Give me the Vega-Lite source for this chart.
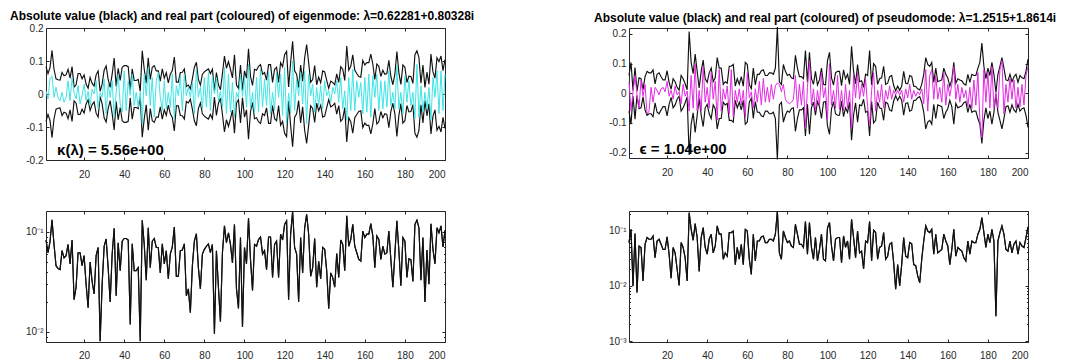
{
"$schema": "https://vega.github.io/schema/vega-lite/v6.json",
"padding": {"left": 10, "top": 10, "right": 5, "bottom": 0},
"background": "white",
"config": {"view": {"stroke": null}, "axis": {"labelFont": "Liberation Sans", "labelFontSize": 10, "labelColor": "#262626", "domainColor": "#262626", "tickColor": "#262626", "grid": false, "tickSize": -3, "domainWidth": 1, "tickWidth": 1}, "title": {"font": "Liberation Sans", "fontSize": 12, "fontWeight": "bold", "color": "black"}},
"datasets": {
"L": [{"i":1,"a":0.083,"r":0.01},{"i":2,"a":0.062,"r":-0.015},{"i":3,"a":0.08,"r":0.045},{"i":4,"a":0.132,"r":0.055},{"i":5,"a":0.075,"r":-0.01},{"i":6,"a":0.046,"r":0.02},{"i":7,"a":0.043,"r":-0.012},{"i":8,"a":0.042,"r":-0.02},{"i":9,"a":0.065,"r":0.005},{"i":10,"a":0.055,"r":-0.025},
{"i":11,"a":0.058,"r":-0.01},{"i":12,"a":0.075,"r":0.04},{"i":13,"a":0.048,"r":-0.02},{"i":14,"a":0.083,"r":0.05},{"i":15,"a":0.021,"r":0.005},{"i":16,"a":0.028,"r":-0.015},{"i":17,"a":0.062,"r":0.025},{"i":18,"a":0.062,"r":-0.03},{"i":19,"a":0.046,"r":-0.005},{"i":20,"a":0.058,"r":0.03},
{"i":21,"a":0.03,"r":-0.02},{"i":22,"a":0.0175,"r":0.008},{"i":23,"a":0.05,"r":-0.035},{"i":24,"a":0.032,"r":0.015},{"i":25,"a":0.024,"r":0.0},{"i":26,"a":0.058,"r":0.04},{"i":27,"a":0.07,"r":-0.045},{"i":28,"a":0.0081,"r":0.004},{"i":29,"a":0.03,"r":-0.01},{"i":30,"a":0.072,"r":0.045},
{"i":31,"a":0.085,"r":-0.06},{"i":32,"a":0.044,"r":0.03},{"i":33,"a":0.02,"r":-0.01},{"i":34,"a":0.06,"r":0.04},{"i":35,"a":0.109,"r":-0.07},{"i":36,"a":0.023,"r":0.005},{"i":37,"a":0.078,"r":0.06},{"i":38,"a":0.041,"r":-0.03},{"i":39,"a":0.081,"r":-0.055},{"i":40,"a":0.086,"r":0.07},
{"i":41,"a":0.086,"r":-0.05},{"i":42,"a":0.083,"r":0.04},{"i":43,"a":0.0119,"r":-0.004},{"i":44,"a":0.076,"r":0.06},{"i":45,"a":0.041,"r":-0.035},{"i":46,"a":0.041,"r":0.005},{"i":47,"a":0.044,"r":-0.04},{"i":48,"a":0.0081,"r":0.006},{"i":49,"a":0.131,"r":-0.09},{"i":50,"a":0.075,"r":0.06},
{"i":51,"a":0.033,"r":-0.005},{"i":52,"a":0.11,"r":0.08},{"i":53,"a":0.044,"r":-0.035},{"i":54,"a":0.081,"r":0.05},{"i":55,"a":0.086,"r":-0.07},{"i":56,"a":0.07,"r":0.04},{"i":57,"a":0.07,"r":0.065},{"i":58,"a":0.039,"r":-0.01},{"i":59,"a":0.076,"r":-0.05},{"i":60,"a":0.048,"r":0.04},
{"i":61,"a":0.065,"r":-0.045},{"i":62,"a":0.034,"r":0.005},{"i":63,"a":0.06,"r":-0.04},{"i":64,"a":0.071,"r":0.06},{"i":65,"a":0.112,"r":-0.075},{"i":66,"a":0.036,"r":0.025},{"i":67,"a":0.036,"r":-0.005},{"i":68,"a":0.065,"r":0.055},{"i":69,"a":0.066,"r":-0.05},{"i":70,"a":0.076,"r":0.06},
{"i":71,"a":0.023,"r":-0.005},{"i":72,"a":0.027,"r":0.02},{"i":73,"a":0.0156,"r":-0.01},{"i":74,"a":0.046,"r":0.035},{"i":75,"a":0.081,"r":-0.06},{"i":76,"a":0.096,"r":0.075},{"i":77,"a":0.044,"r":-0.01},{"i":78,"a":0.027,"r":0.02},{"i":79,"a":0.06,"r":-0.045},{"i":80,"a":0.067,"r":0.05},
{"i":81,"a":0.072,"r":-0.04},{"i":82,"a":0.076,"r":0.065},{"i":83,"a":0.062,"r":-0.05},{"i":84,"a":0.075,"r":0.055},{"i":85,"a":0.0096,"r":0.0},{"i":86,"a":0.065,"r":0.05},{"i":87,"a":0.028,"r":-0.022},{"i":88,"a":0.0127,"r":0.008},{"i":89,"a":0.062,"r":-0.04},{"i":90,"a":0.115,"r":0.08},
{"i":91,"a":0.078,"r":-0.06},{"i":92,"a":0.098,"r":0.06},{"i":93,"a":0.075,"r":-0.055},{"i":94,"a":0.049,"r":0.035},{"i":95,"a":0.119,"r":-0.07},{"i":96,"a":0.027,"r":0.005},{"i":97,"a":0.0172,"r":-0.012},{"i":98,"a":0.088,"r":0.06},{"i":99,"a":0.0112,"r":-0.008},{"i":100,"a":0.07,"r":0.05},
{"i":101,"a":0.048,"r":-0.04},{"i":102,"a":0.137,"r":0.09},{"i":103,"a":0.053,"r":-0.045},{"i":104,"a":0.026,"r":0.005},{"i":105,"a":0.075,"r":-0.06},{"i":106,"a":0.072,"r":0.05},{"i":107,"a":0.084,"r":-0.055},{"i":108,"a":0.089,"r":0.075},{"i":109,"a":0.06,"r":-0.04},{"i":110,"a":0.065,"r":0.045},
{"i":111,"a":0.042,"r":-0.035},{"i":112,"a":0.089,"r":0.07},{"i":113,"a":0.089,"r":-0.06},{"i":114,"a":0.035,"r":0.005},{"i":115,"a":0.075,"r":-0.05},{"i":116,"a":0.081,"r":0.065},{"i":117,"a":0.035,"r":-0.01},{"i":118,"a":0.095,"r":0.06},{"i":119,"a":0.083,"r":-0.065},{"i":120,"a":0.119,"r":0.08},
{"i":121,"a":0.129,"r":-0.09},{"i":122,"a":0.021,"r":0.003},{"i":123,"a":0.095,"r":-0.06},{"i":124,"a":0.16,"r":0.1},{"i":125,"a":0.07,"r":-0.05},{"i":126,"a":0.06,"r":0.045},{"i":127,"a":0.02,"r":-0.005},{"i":128,"a":0.088,"r":0.065},{"i":129,"a":0.039,"r":-0.03},{"i":130,"a":0.11,"r":0.07},
{"i":131,"a":0.15,"r":-0.09},{"i":132,"a":0.095,"r":0.06},{"i":133,"a":0.036,"r":-0.005},{"i":134,"a":0.044,"r":0.03},{"i":135,"a":0.086,"r":-0.055},{"i":136,"a":0.028,"r":0.02},{"i":137,"a":0.051,"r":-0.035},{"i":138,"a":0.034,"r":0.025},{"i":139,"a":0.07,"r":-0.045},{"i":140,"a":0.067,"r":0.04},
{"i":141,"a":0.041,"r":-0.005},{"i":142,"a":0.0171,"r":0.01},{"i":143,"a":0.039,"r":-0.025},{"i":144,"a":0.035,"r":0.02},{"i":145,"a":0.028,"r":0.0},{"i":146,"a":0.061,"r":0.04},{"i":147,"a":0.035,"r":-0.025},{"i":148,"a":0.083,"r":0.05},{"i":149,"a":0.075,"r":-0.045},{"i":150,"a":0.041,"r":0.01},
{"i":151,"a":0.145,"r":-0.08},{"i":152,"a":0.072,"r":0.05},{"i":153,"a":0.084,"r":-0.05},{"i":154,"a":0.119,"r":0.075},{"i":155,"a":0.072,"r":-0.05},{"i":156,"a":0.062,"r":0.04},{"i":157,"a":0.053,"r":-0.01},{"i":158,"a":0.051,"r":0.035},{"i":159,"a":0.102,"r":-0.06},{"i":160,"a":0.088,"r":0.05},
{"i":161,"a":0.095,"r":-0.055},{"i":162,"a":0.095,"r":0.06},{"i":163,"a":0.121,"r":-0.07},{"i":164,"a":0.091,"r":0.055},{"i":165,"a":0.044,"r":-0.01},{"i":166,"a":0.091,"r":0.06},{"i":167,"a":0.084,"r":-0.05},{"i":168,"a":0.053,"r":0.04},{"i":169,"a":0.072,"r":-0.045},{"i":170,"a":0.06,"r":0.04},
{"i":171,"a":0.062,"r":-0.04},{"i":172,"a":0.102,"r":0.07},{"i":173,"a":0.053,"r":-0.035},{"i":174,"a":0.028,"r":0.005},{"i":175,"a":0.06,"r":-0.045},{"i":176,"a":0.129,"r":0.085},{"i":177,"a":0.065,"r":-0.045},{"i":178,"a":0.029,"r":0.005},{"i":179,"a":0.088,"r":-0.06},{"i":180,"a":0.081,"r":0.055},
{"i":181,"a":0.035,"r":-0.025},{"i":182,"a":0.054,"r":0.04},{"i":183,"a":0.053,"r":-0.035},{"i":184,"a":0.032,"r":0.005},{"i":185,"a":0.119,"r":-0.075},{"i":186,"a":0.131,"r":0.09},{"i":187,"a":0.11,"r":-0.07},{"i":188,"a":0.033,"r":0.025},{"i":189,"a":0.088,"r":-0.055},{"i":190,"a":0.02,"r":0.005},
{"i":191,"a":0.066,"r":-0.045},{"i":192,"a":0.03,"r":0.02},{"i":193,"a":0.121,"r":-0.08},{"i":194,"a":0.067,"r":0.05},{"i":195,"a":0.048,"r":-0.01},{"i":196,"a":0.11,"r":0.07},{"i":197,"a":0.098,"r":-0.06},{"i":198,"a":0.115,"r":0.07},{"i":199,"a":0.071,"r":-0.05},{"i":200,"a":0.104,"r":0.06}],
"R": [{"i":1,"a":0.06,"r":0.04},{"i":2,"a":0.104,"r":-0.06},{"i":3,"a":0.0099,"r":0.005},{"i":4,"a":0.087,"r":0.06},{"i":5,"a":0.0075,"r":-0.005},{"i":6,"a":0.052,"r":-0.05},{"i":7,"a":0.049,"r":0.045},{"i":8,"a":0.0121,"r":-0.01},{"i":9,"a":0.056,"r":0.03},{"i":10,"a":0.074,"r":-0.07},
{"i":11,"a":0.069,"r":-0.06},{"i":12,"a":0.069,"r":0.02},{"i":13,"a":0.079,"r":-0.03},{"i":14,"a":0.032,"r":0.02},{"i":15,"a":0.064,"r":0.01},{"i":16,"a":0.069,"r":-0.005},{"i":17,"a":0.056,"r":0.015},{"i":18,"a":0.045,"r":0.02},{"i":19,"a":0.045,"r":0.005},{"i":20,"a":0.076,"r":0.04},
{"i":21,"a":0.037,"r":-0.01},{"i":22,"a":0.0136,"r":0.01},{"i":23,"a":0.049,"r":-0.02},{"i":24,"a":0.039,"r":0.025},{"i":25,"a":0.02,"r":-0.005},{"i":26,"a":0.0101,"r":0.005},{"i":27,"a":0.06,"r":-0.035},{"i":28,"a":0.049,"r":0.03},{"i":29,"a":0.032,"r":-0.01},{"i":30,"a":0.0121,"r":0.008},
{"i":31,"a":0.208,"r":-0.06},{"i":32,"a":0.104,"r":0.06},{"i":33,"a":0.066,"r":-0.05},{"i":34,"a":0.132,"r":0.1},{"i":35,"a":0.074,"r":-0.06},{"i":36,"a":0.018,"r":0.01},{"i":37,"a":0.074,"r":-0.06},{"i":38,"a":0.112,"r":0.09},{"i":39,"a":0.049,"r":-0.03},{"i":40,"a":0.037,"r":0.02},
{"i":41,"a":0.069,"r":-0.05},{"i":42,"a":0.085,"r":0.07},{"i":43,"a":0.039,"r":-0.02},{"i":44,"a":0.052,"r":0.04},{"i":45,"a":0.12,"r":-0.09},{"i":46,"a":0.085,"r":0.08},{"i":47,"a":0.085,"r":-0.06},{"i":48,"a":0.03,"r":0.015},{"i":49,"a":0.039,"r":-0.02},{"i":50,"a":0.034,"r":0.025},
{"i":51,"a":0.091,"r":-0.07},{"i":52,"a":0.091,"r":0.08},{"i":53,"a":0.097,"r":-0.08},{"i":54,"a":0.024,"r":0.01},{"i":55,"a":0.049,"r":-0.03},{"i":56,"a":0.03,"r":0.015},{"i":57,"a":0.056,"r":-0.04},{"i":58,"a":0.024,"r":0.01},{"i":59,"a":0.104,"r":-0.08},{"i":60,"a":0.097,"r":0.07},
{"i":61,"a":0.03,"r":-0.015},{"i":62,"a":0.016,"r":0.005},{"i":63,"a":0.085,"r":-0.05},{"i":64,"a":0.028,"r":0.015},{"i":65,"a":0.064,"r":-0.03},{"i":66,"a":0.064,"r":0.04},{"i":67,"a":0.076,"r":-0.04},{"i":68,"a":0.079,"r":0.05},{"i":69,"a":0.06,"r":-0.03},{"i":70,"a":0.06,"r":0.02},
{"i":71,"a":0.069,"r":-0.03},{"i":72,"a":0.069,"r":0.03},{"i":73,"a":0.064,"r":-0.02},{"i":74,"a":0.085,"r":0.025},{"i":75,"a":0.223,"r":0.035},{"i":76,"a":0.039,"r":0.03},{"i":77,"a":0.03,"r":0.005},{"i":78,"a":0.097,"r":0.03},{"i":79,"a":0.074,"r":-0.02},{"i":80,"a":0.06,"r":-0.03},
{"i":81,"a":0.064,"r":-0.035},{"i":82,"a":0.052,"r":-0.03},{"i":83,"a":0.049,"r":-0.02},{"i":84,"a":0.128,"r":0.06},{"i":85,"a":0.085,"r":-0.05},{"i":86,"a":0.056,"r":0.03},{"i":87,"a":0.056,"r":-0.04},{"i":88,"a":0.049,"r":0.04},{"i":89,"a":0.144,"r":-0.12},{"i":90,"a":0.037,"r":0.02},
{"i":91,"a":0.138,"r":0.11},{"i":92,"a":0.049,"r":-0.04},{"i":93,"a":0.03,"r":0.015},{"i":94,"a":0.074,"r":-0.06},{"i":95,"a":0.028,"r":0.01},{"i":96,"a":0.045,"r":-0.04},{"i":97,"a":0.085,"r":0.07},{"i":98,"a":0.03,"r":-0.015},{"i":99,"a":0.028,"r":0.02},{"i":100,"a":0.11,"r":-0.09},
{"i":101,"a":0.138,"r":0.1},{"i":102,"a":0.052,"r":-0.04},{"i":103,"a":0.028,"r":0.01},{"i":104,"a":0.069,"r":-0.05},{"i":105,"a":0.074,"r":0.06},{"i":106,"a":0.074,"r":-0.055},{"i":107,"a":0.026,"r":0.01},{"i":108,"a":0.079,"r":-0.06},{"i":109,"a":0.049,"r":0.03},{"i":110,"a":0.064,"r":-0.05},
{"i":111,"a":0.03,"r":0.01},{"i":112,"a":0.158,"r":-0.12},{"i":113,"a":0.074,"r":0.06},{"i":114,"a":0.032,"r":-0.015},{"i":115,"a":0.097,"r":0.07},{"i":116,"a":0.039,"r":-0.02},{"i":117,"a":0.042,"r":0.03},{"i":118,"a":0.02,"r":-0.01},{"i":119,"a":0.064,"r":0.05},{"i":120,"a":0.06,"r":-0.045},
{"i":121,"a":0.144,"r":-0.11},{"i":122,"a":0.028,"r":0.01},{"i":123,"a":0.1,"r":0.07},{"i":124,"a":0.091,"r":-0.06},{"i":125,"a":0.03,"r":0.01},{"i":126,"a":0.049,"r":-0.03},{"i":127,"a":0.052,"r":0.03},{"i":128,"a":0.091,"r":-0.05},{"i":129,"a":0.03,"r":0.01},{"i":130,"a":0.034,"r":-0.02},
{"i":131,"a":0.056,"r":0.025},{"i":132,"a":0.06,"r":-0.02},{"i":133,"a":0.026,"r":0.01},{"i":134,"a":0.0086,"r":-0.005},{"i":135,"a":0.024,"r":0.01},{"i":136,"a":0.0099,"r":-0.006},{"i":137,"a":0.024,"r":0.01},{"i":138,"a":0.074,"r":-0.03},{"i":139,"a":0.034,"r":0.015},{"i":140,"a":0.032,"r":-0.015},
{"i":141,"a":0.06,"r":0.03},{"i":142,"a":0.057,"r":-0.02},{"i":143,"a":0.024,"r":0.01},{"i":144,"a":0.023,"r":-0.01},{"i":145,"a":0.015,"r":0.005},{"i":146,"a":0.0113,"r":-0.005},{"i":147,"a":0.03,"r":0.015},{"i":148,"a":0.064,"r":-0.035},{"i":149,"a":0.12,"r":0.08},{"i":150,"a":0.097,"r":-0.06},
{"i":151,"a":0.091,"r":0.06},{"i":152,"a":0.104,"r":0.08},{"i":153,"a":0.037,"r":-0.02},{"i":154,"a":0.085,"r":0.06},{"i":155,"a":0.039,"r":-0.02},{"i":156,"a":0.042,"r":0.02},{"i":157,"a":0.045,"r":-0.03},{"i":158,"a":0.085,"r":0.07},{"i":159,"a":0.064,"r":-0.04},{"i":160,"a":0.052,"r":0.03},
{"i":161,"a":0.024,"r":-0.01},{"i":162,"a":0.045,"r":0.03},{"i":163,"a":0.104,"r":0.09},{"i":164,"a":0.034,"r":-0.02},{"i":165,"a":0.049,"r":0.03},{"i":166,"a":0.045,"r":-0.03},{"i":167,"a":0.042,"r":0.02},{"i":168,"a":0.032,"r":-0.015},{"i":169,"a":0.028,"r":0.01},{"i":170,"a":0.064,"r":-0.045},
{"i":171,"a":0.037,"r":0.02},{"i":172,"a":0.064,"r":-0.05},{"i":173,"a":0.06,"r":0.045},{"i":174,"a":0.06,"r":-0.04},{"i":175,"a":0.085,"r":0.07},{"i":176,"a":0.104,"r":-0.09},{"i":177,"a":0.169,"r":-0.15},{"i":178,"a":0.091,"r":0.08},{"i":179,"a":0.049,"r":-0.03},{"i":180,"a":0.085,"r":0.07},
{"i":181,"a":0.06,"r":-0.05},{"i":182,"a":0.104,"r":0.09},{"i":183,"a":0.064,"r":-0.05},{"i":184,"a":0.0028,"r":0.002},{"i":185,"a":0.064,"r":-0.05},{"i":186,"a":0.091,"r":0.08},{"i":187,"a":0.12,"r":0.11},{"i":188,"a":0.085,"r":-0.07},{"i":189,"a":0.045,"r":0.03},{"i":190,"a":0.042,"r":-0.03},
{"i":191,"a":0.064,"r":0.05},{"i":192,"a":0.039,"r":-0.02},{"i":193,"a":0.056,"r":0.045},{"i":194,"a":0.064,"r":-0.05},{"i":195,"a":0.037,"r":0.02},{"i":196,"a":0.06,"r":-0.045},{"i":197,"a":0.052,"r":0.03},{"i":198,"a":0.049,"r":-0.04},{"i":199,"a":0.074,"r":0.06},{"i":200,"a":0.115,"r":0.09}],
"TL": [{"x": 6.5, "y": -0.171, "t": "κ(λ) = 5.56e+00"}],
"TR": [{"x": 6.2, "y": -0.189, "t": "ϵ = 1.04e+00"}]
},
"columns": 2,
"bounds": "flush",
"spacing": {"row": 51, "column": 184},
"concat": [
{
 "width": 399, "height": 132,
 "title": {"text": "Absolute value (black) and real part (coloured) of eigenmode: λ=0.62281+0.80328i", "anchor": "start", "frame": "group", "dx": -36, "offset": 0},
 "resolve": {"scale": {"y": "independent"}, "axis": {"x": "independent", "y": "independent"}},
 "layer": [
  {"data": {"name": "L"}, "mark": {"type": "line", "color": "#111111", "strokeWidth": 1.15},
   "encoding": {"x": {"field": "i", "type": "quantitative", "scale": {"domain": [1, 200], "nice": false, "zero": false}, "axis": {"orient": "bottom", "values": [20,40,60,80,100,120,140,160,180,200], "labelPadding": 12, "title": null}},
    "y": {"field": "a", "type": "quantitative", "scale": {"domain": [-0.2, 0.2], "nice": false}, "axis": {"orient": "left", "values": [-0.2,-0.1,0,0.1,0.2], "labelPadding": 6, "labelExpr": "datum.value == 0 ? '0' : replace(format(datum.value, '.1f'), '\u2212', '-')", "title": null}}}},
  {"data": {"name": "L"}, "mark": {"type": "line", "color": "#111111", "strokeWidth": 1.15},
   "encoding": {"x": {"field": "i", "type": "quantitative", "scale": {"domain": [1, 200], "nice": false, "zero": false}, "axis": {"orient": "top", "values": [20,40,60,80,100,120,140,160,180,200], "labels": false, "title": null}},
    "y": {"field": "a", "type": "quantitative", "scale": {"domain": [-0.2, 0.2], "nice": false, "reverse": true}, "axis": {"orient": "right", "values": [-0.2,-0.1,0,0.1,0.2], "labels": false, "title": null}}}},
  {"data": {"name": "L"}, "mark": {"type": "line", "color": "#40e4e4", "strokeWidth": 1},
   "encoding": {"x": {"field": "i", "type": "quantitative", "scale": {"domain": [1, 200], "nice": false, "zero": false}, "axis": null},
    "y": {"field": "r", "type": "quantitative", "scale": {"domain": [-0.2, 0.2], "nice": false}, "axis": null}}},
  {"data": {"name": "TL"}, "mark": {"type": "text", "align": "left", "baseline": "middle", "fontSize": 15, "fontWeight": "bold", "font": "Liberation Sans", "color": "black"},
   "encoding": {"x": {"field": "x", "type": "quantitative", "scale": {"domain": [1, 200], "nice": false, "zero": false}, "axis": null},
    "y": {"field": "y", "type": "quantitative", "scale": {"domain": [-0.2, 0.2], "nice": false}, "axis": null}, "text": {"field": "t"}}}
 ]
},
{
 "width": 399, "height": 130,
 "title": {"text": "Absolute value (black) and real part (coloured) of pseudomode: λ=1.2515+1.8614i", "anchor": "start", "frame": "group", "dx": -35, "offset": 0},
 "resolve": {"scale": {"y": "independent"}, "axis": {"x": "independent", "y": "independent"}},
 "layer": [
  {"data": {"name": "R"}, "mark": {"type": "line", "color": "#111111", "strokeWidth": 1.15},
   "encoding": {"x": {"field": "i", "type": "quantitative", "scale": {"domain": [1, 200], "nice": false, "zero": false}, "axis": {"orient": "bottom", "values": [20,40,60,80,100,120,140,160,180,200], "labelPadding": 12, "title": null}},
    "y": {"field": "a", "type": "quantitative", "scale": {"domain": [-0.218, 0.22], "nice": false}, "axis": {"orient": "left", "values": [-0.2,-0.1,0,0.1,0.2], "labelPadding": 6, "labelExpr": "datum.value == 0 ? '0' : replace(format(datum.value, '.1f'), '\u2212', '-')", "title": null}}}},
  {"data": {"name": "R"}, "mark": {"type": "line", "color": "#111111", "strokeWidth": 1.15},
   "encoding": {"x": {"field": "i", "type": "quantitative", "scale": {"domain": [1, 200], "nice": false, "zero": false}, "axis": {"orient": "top", "values": [20,40,60,80,100,120,140,160,180,200], "labels": false, "title": null}},
    "y": {"field": "a", "type": "quantitative", "scale": {"domain": [-0.22, 0.218], "nice": false, "reverse": true}, "axis": {"orient": "right", "values": [-0.2,-0.1,0,0.1,0.2], "labels": false, "title": null}}}},
  {"data": {"name": "R"}, "mark": {"type": "line", "color": "#e22be2", "strokeWidth": 1},
   "encoding": {"x": {"field": "i", "type": "quantitative", "scale": {"domain": [1, 200], "nice": false, "zero": false}, "axis": null},
    "y": {"field": "r", "type": "quantitative", "scale": {"domain": [-0.218, 0.22], "nice": false}, "axis": null}}},
  {"data": {"name": "TR"}, "mark": {"type": "text", "align": "left", "baseline": "middle", "fontSize": 15, "fontWeight": "bold", "font": "Liberation Sans", "color": "black"},
   "encoding": {"x": {"field": "x", "type": "quantitative", "scale": {"domain": [1, 200], "nice": false, "zero": false}, "axis": null},
    "y": {"field": "y", "type": "quantitative", "scale": {"domain": [-0.218, 0.22], "nice": false}, "axis": null}, "text": {"field": "t"}}}
 ]
},
{
 "width": 399, "height": 131,
 "resolve": {"axis": {"x": "independent", "y": "independent"}},
 "layer": [
  {"data": {"name": "L"}, "mark": {"type": "line", "color": "#111111", "strokeWidth": 1.15},
   "encoding": {"x": {"field": "i", "type": "quantitative", "scale": {"domain": [1, 200], "nice": false, "zero": false}, "axis": {"orient": "bottom", "values": [20,40,60,80,100,120,140,160,180,200], "labelPadding": 11, "title": null}},
    "y": {"field": "a", "type": "quantitative", "scale": {"type": "log", "domain": [0.00794, 0.162], "nice": false}, "axis": {"orient": "left", "values": [0.008,0.009,0.01,0.02,0.03,0.04,0.05,0.06,0.07,0.08,0.09,0.1], "tickSize": {"condition": {"test": "datum.value == 0.1 || datum.value == 0.01", "value": -3}, "value": -1.5}, "labelPadding": 6, "labelExpr": "datum.value == 0.1 ? '10⁻¹' : datum.value == 0.01 ? '10⁻²' : ''", "title": null}}}},
  {"data": {"name": "L"}, "mark": {"type": "line", "color": "#111111", "strokeWidth": 1.15},
   "encoding": {"x": {"field": "i", "type": "quantitative", "scale": {"domain": [1, 200], "nice": false, "zero": false}, "axis": {"orient": "top", "values": [20,40,60,80,100,120,140,160,180,200], "labels": false, "title": null}},
    "y": {"field": "a", "type": "quantitative", "scale": {"type": "log", "domain": [0.00794, 0.162], "nice": false}, "axis": {"orient": "right", "values": [0.008,0.009,0.01,0.02,0.03,0.04,0.05,0.06,0.07,0.08,0.09,0.1], "tickSize": {"condition": {"test": "datum.value == 0.1 || datum.value == 0.01", "value": -3}, "value": -1.5}, "labels": false, "title": null}}}}
 ]
},
{
 "width": 399, "height": 131,
 "resolve": {"axis": {"x": "independent", "y": "independent"}},
 "layer": [
  {"data": {"name": "R"}, "mark": {"type": "line", "color": "#111111", "strokeWidth": 1.15},
   "encoding": {"x": {"field": "i", "type": "quantitative", "scale": {"domain": [1, 200], "nice": false, "zero": false}, "axis": {"orient": "bottom", "values": [20,40,60,80,100,120,140,160,180,200], "labelPadding": 11, "title": null}},
    "y": {"field": "a", "type": "quantitative", "scale": {"type": "log", "domain": [0.00096, 0.223], "nice": false}, "axis": {"orient": "left", "values": [0.001,0.002,0.003,0.004,0.005,0.006,0.007,0.008,0.009,0.01,0.02,0.03,0.04,0.05,0.06,0.07,0.08,0.09,0.1,0.2], "tickSize": {"condition": {"test": "datum.value == 0.1 || datum.value == 0.01 || datum.value == 0.001", "value": -3}, "value": -1.5}, "labelPadding": 6, "labelExpr": "datum.value == 0.1 ? '10⁻¹' : datum.value == 0.01 ? '10⁻²' : datum.value == 0.001 ? '10⁻³' : ''", "title": null}}}},
  {"data": {"name": "R"}, "mark": {"type": "line", "color": "#111111", "strokeWidth": 1.15},
   "encoding": {"x": {"field": "i", "type": "quantitative", "scale": {"domain": [1, 200], "nice": false, "zero": false}, "axis": {"orient": "top", "values": [20,40,60,80,100,120,140,160,180,200], "labels": false, "title": null}},
    "y": {"field": "a", "type": "quantitative", "scale": {"type": "log", "domain": [0.00096, 0.223], "nice": false}, "axis": {"orient": "right", "values": [0.001,0.002,0.003,0.004,0.005,0.006,0.007,0.008,0.009,0.01,0.02,0.03,0.04,0.05,0.06,0.07,0.08,0.09,0.1,0.2], "tickSize": {"condition": {"test": "datum.value == 0.1 || datum.value == 0.01 || datum.value == 0.001", "value": -3}, "value": -1.5}, "labels": false, "title": null}}}}
 ]
}
]
}
